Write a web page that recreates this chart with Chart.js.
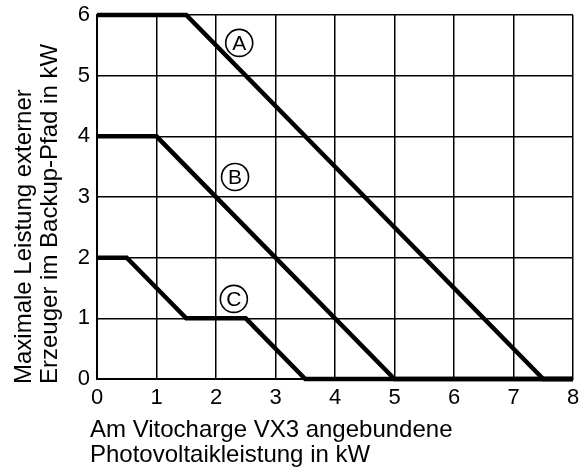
<!DOCTYPE html>
<html>
<head>
<meta charset="utf-8">
<script src="https://cdn.jsdelivr.net/npm/chart.js@4/dist/chart.umd.min.js"></script>
<style>
  html, body { margin: 0; padding: 0; background: #fff; }
</style>
</head>
<body>
<canvas id="chart" width="587" height="471"></canvas>
<script>
// curve A
const pvA = [0, 1.5, 7.5, 8];
const maxA = [6, 6, 0, 0];
// curve B
const pvB = [0, 1, 5, 8];
const maxB = [4, 4, 0, 0];
// curve C
const pvC = [0, 0.5, 1.5, 2.5, 3.5, 8];
const maxC = [2, 2, 1, 1, 0, 0];

// circled curve labels
const curveLabels = ['A', 'B', 'C'];
const labelX = [2.39, 2.32, 2.3];
const labelY = [5.54, 3.33, 1.32];

const xTitle = ['Am Vitocharge VX3 angebundene', 'Photovoltaikleistung in kW'];
const yTitle = ['Maximale Leistung externer', 'Erzeuger im Backup-Pfad in kW'];

const fontFamily = '"Liberation Sans", Arial, Helvetica, sans-serif';

function toPoints(xs, ys) {
  return xs.map((x, i) => ({ x: x, y: ys[i] }));
}

function curve(xs, ys) {
  return {
    data: toPoints(xs, ys),
    borderColor: '#000',
    borderWidth: 4.5,
    borderJoinStyle: 'miter',
    pointRadius: 0,
    tension: 0,
    clip: false
  };
}

const curveLabelPlugin = {
  id: 'curveLabels',
  afterDatasetsDraw(chart) {
    const { ctx, scales: { x, y } } = chart;
    ctx.save();
    ctx.strokeStyle = '#000';
    ctx.fillStyle = '#000';
    ctx.lineWidth = 1.6;
    ctx.font = '21px ' + fontFamily;
    ctx.textAlign = 'center';
    ctx.textBaseline = 'middle';
    curveLabels.forEach((t, i) => {
      const px = x.getPixelForValue(labelX[i]);
      const py = y.getPixelForValue(labelY[i]);
      ctx.beginPath();
      ctx.arc(px, py, 13.5, 0, Math.PI * 2);
      ctx.stroke();
      ctx.fillText(t, px, py + 1);
    });
    ctx.restore();
  }
};

// axis titles, drawn left/bottom aligned like the original
const axisTitlePlugin = {
  id: 'axisTitles',
  afterDraw(chart) {
    const { ctx, chartArea } = chart;
    ctx.save();
    ctx.fillStyle = '#000';
    ctx.font = '24px ' + fontFamily;
    ctx.textAlign = 'left';
    ctx.textBaseline = 'alphabetic';
    xTitle.forEach((line, i) => {
      ctx.fillText(line, chartArea.left - 7, chartArea.bottom + 58 + i * 25);
    });
    ctx.translate(0, chartArea.bottom + 5);
    ctx.rotate(-Math.PI / 2);
    yTitle.forEach((line, i) => {
      ctx.fillText(line, 0, 31 + i * 26);
    });
    ctx.restore();
  }
};

new Chart(document.getElementById('chart'), {
  type: 'line',
  data: {
    datasets: [curve(pvA, maxA), curve(pvB, maxB), curve(pvC, maxC)]
  },
  options: {
    responsive: false,
    animation: false,
    layout: { padding: { left: 0, right: 14, top: 15, bottom: 0 } },
    plugins: {
      legend: { display: false },
      tooltip: { enabled: false }
    },
    scales: {
      x: {
        type: 'linear',
        min: 0,
        max: 8,
        ticks: { stepSize: 1, color: '#000', padding: 6, font: { family: fontFamily, size: 22 } },
        grid: { color: '#000', lineWidth: 1.5, drawTicks: false },
        border: { color: '#000', width: 2 },
        afterFit(scale) {
          scale.height = 92;
          scale.paddingLeft = 0;
          scale.paddingRight = 0;
        }
      },
      y: {
        min: 0,
        max: 6,
        ticks: { stepSize: 1, color: '#000', padding: 7, font: { family: fontFamily, size: 22 } },
        grid: { color: '#000', lineWidth: 1.5, drawTicks: false },
        border: { color: '#000', width: 2 },
        afterFit(scale) {
          scale.width = 97;
          scale.paddingTop = 0;
          scale.paddingBottom = 0;
        }
      }
    }
  },
  plugins: [curveLabelPlugin, axisTitlePlugin]
});
</script>
</body>
</html>
